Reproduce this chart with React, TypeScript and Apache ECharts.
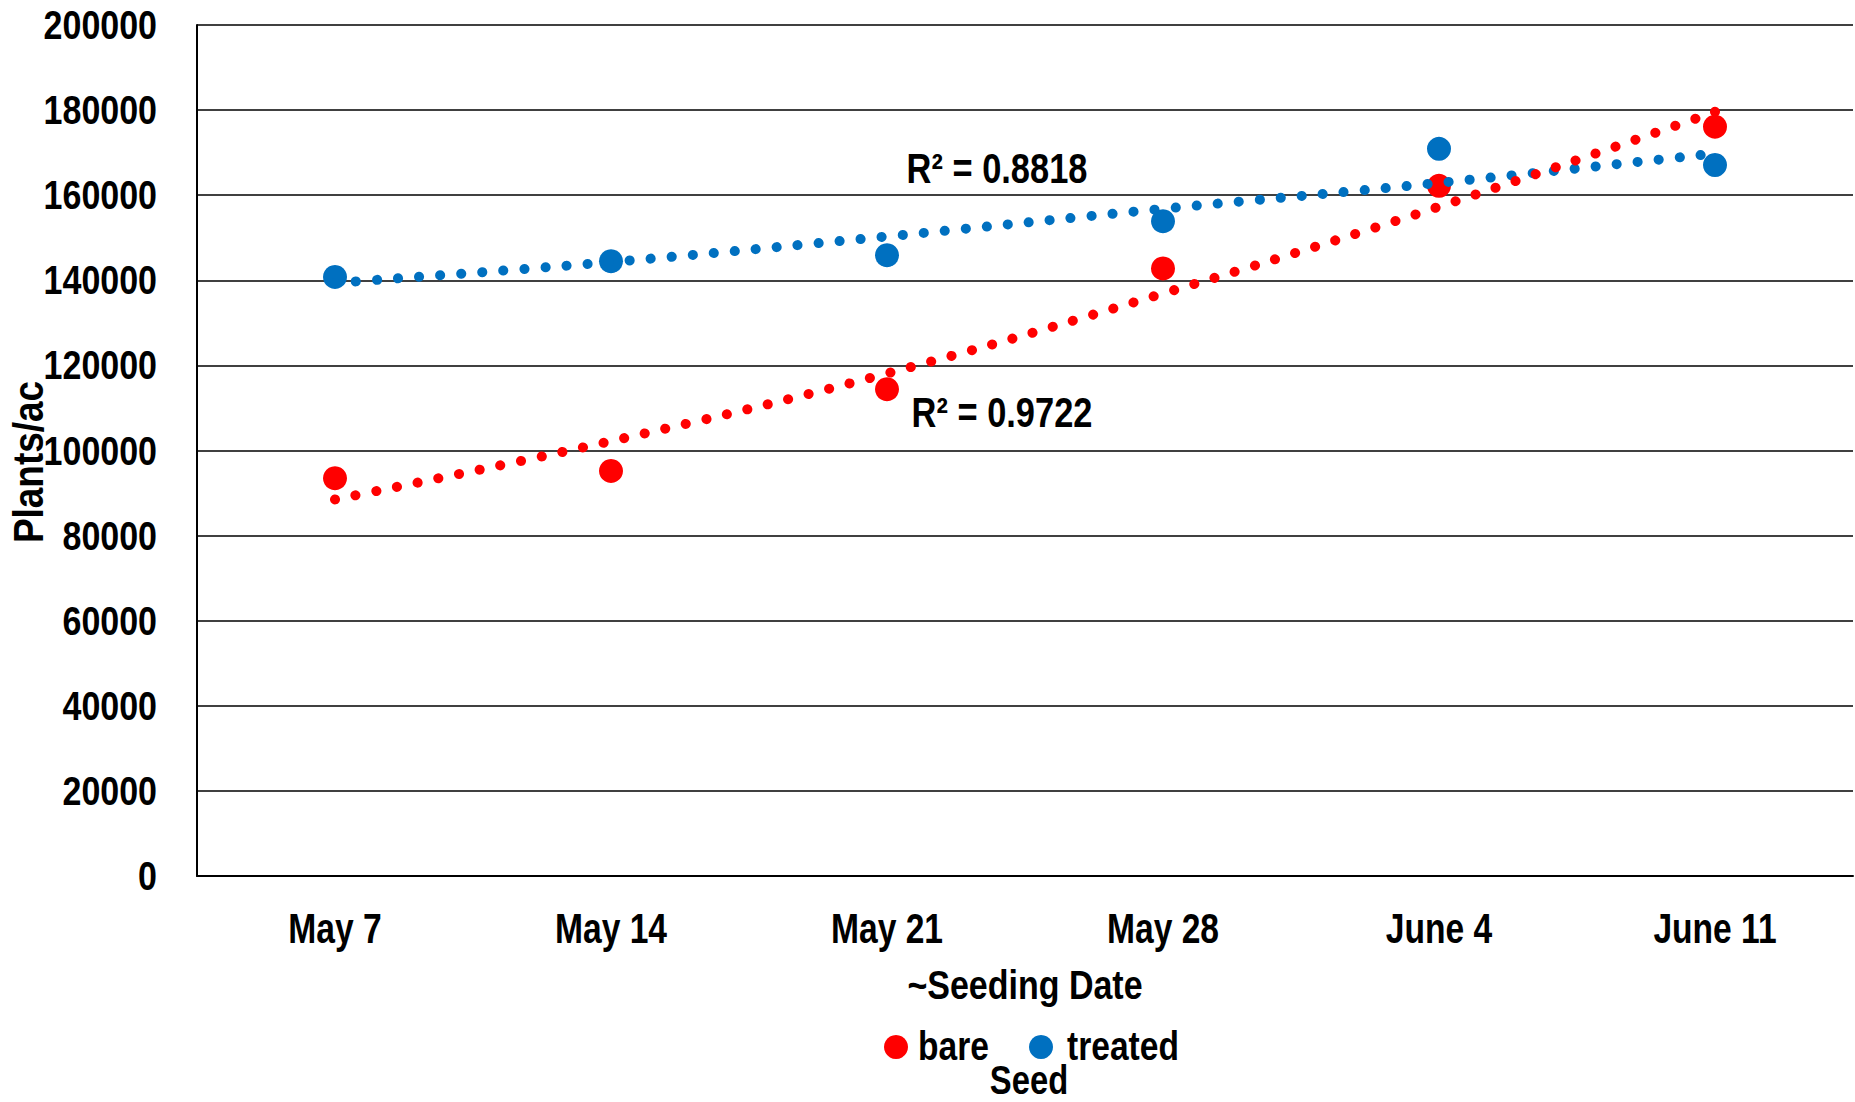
import React, { useEffect, useRef } from "react";
import * as echarts from "echarts";

const categories = ["May 7", "May 14", "May 21", "May 28", "June 4", "June 11"];
const bare = [93500, 95200, 114400, 142800, 162200, 176100];
const treated = [140800, 144500, 145900, 153900, 170900, 167100];
const bareTrend = [88500, 102200, 118100, 136900, 157300, 179600];
const treatedTrend = [139400, 144300, 150300, 156800, 162900, 169800];
const yTickValues = [0, 20000, 40000, 60000, 80000, 100000, 120000, 140000, 160000, 180000, 200000];
const seriesNames = ["bare", "treated"];
const r2Treated = "R² = 0.8818";
const r2Bare = "R² = 0.9722";

const FONT = "'Liberation Sans', Arial, sans-serif";
const RED = "#FF0000";
const BLUE = "#0070C0";

export default function App() {
  const ref = useRef<HTMLDivElement>(null);
  useEffect(() => {
    const chart = echarts.init(ref.current!, undefined, { renderer: "svg" });
    const txt = (
      text: string,
      x: number,
      y: number,
      size: number,
      sx: number,
      align = "center",
      extra: any = {}
    ) => ({
      type: "text",
      x,
      y,
      scaleX: sx,
      ...extra,
      style: {
        text,
        fill: "#000",
        font: `bold ${size}px ${FONT}`,
        align,
        verticalAlign: "middle",
      },
    });
    chart.setOption({
      animation: false,
      backgroundColor: "#fff",
      grid: { left: 197, right: 2, top: 25, bottom: 226, containLabel: false },
      xAxis: {
        type: "category",
        data: categories,
        boundaryGap: true,
        axisLine: { lineStyle: { color: "#000", width: 2 } },
        axisTick: { show: false },
        axisLabel: { show: false },
      },
      yAxis: {
        type: "value",
        min: 0,
        max: 200000,
        interval: 20000,
        axisLine: { show: true, lineStyle: { color: "#000", width: 2 } },
        axisTick: { show: false },
        splitLine: { lineStyle: { color: "#000", width: 1.5 } },
        axisLabel: { show: false },
      },
      legend: {
        data: seriesNames,
        left: 884,
        top: 1035,
        padding: 0,
        icon: "circle",
        itemWidth: 24,
        itemHeight: 24,
        itemGap: 121,
        formatter: () => "",
        textStyle: { fontSize: 10 },
      },
      series: [
        {
          name: seriesNames[0],
          type: "scatter",
          data: bare,
          symbol: "circle",
          symbolSize: 24,
          itemStyle: { color: RED, opacity: 1 },
          z: 2,
        },
        {
          name: seriesNames[1],
          type: "scatter",
          data: treated,
          symbol: "circle",
          symbolSize: 24,
          itemStyle: { color: BLUE, opacity: 1 },
          z: 2,
        },
        {
          name: "treated trend",
          type: "line",
          data: treatedTrend,
          smooth: 0.4,
          showSymbol: false,
          symbol: "none",
          lineStyle: { color: BLUE, width: 10, type: [0.1, 21], cap: "round" },
          z: 3,
        },
        {
          name: "bare trend",
          type: "line",
          data: bareTrend,
          smooth: 0.4,
          showSymbol: false,
          symbol: "none",
          lineStyle: { color: RED, width: 10, type: [0.1, 21], cap: "round" },
          z: 4,
        },
      ],
    });

    const graphics: any[] = [];
    categories.forEach((c, i) => {
      const px = chart.convertToPixel({ xAxisIndex: 0 }, i) as number;
      graphics.push(txt(c, px, 929, 42, 0.8));
    });
    yTickValues.forEach((v) => {
      const py = chart.convertToPixel({ yAxisIndex: 0 }, v) as number;
      graphics.push(txt(String(v), 157, py, 40, 0.85, "right"));
    });
    graphics.push(txt("Plants/ac", 28, 462, 42, 0.88, "center", { rotation: Math.PI / 2 }));
    graphics.push(txt("~Seeding Date", 1025, 985, 40, 0.85));
    graphics.push(txt(seriesNames[0], 918, 1046, 40, 0.84, "left"));
    graphics.push(txt(seriesNames[1], 1067, 1046, 40, 0.84, "left"));
    graphics.push(txt("Seed", 1029, 1080, 40, 0.82));
    graphics.push(txt(r2Treated, 997, 168, 42, 0.82));
    graphics.push(txt(r2Bare, 1002, 412, 42, 0.82));
    chart.setOption({ graphic: graphics });

    return () => chart.dispose();
  }, []);
  return (
    <div
      ref={ref}
      style={{ position: "fixed", left: 0, top: 0, width: 1855, height: 1102, background: "#fff" }}
    />
  );
}
